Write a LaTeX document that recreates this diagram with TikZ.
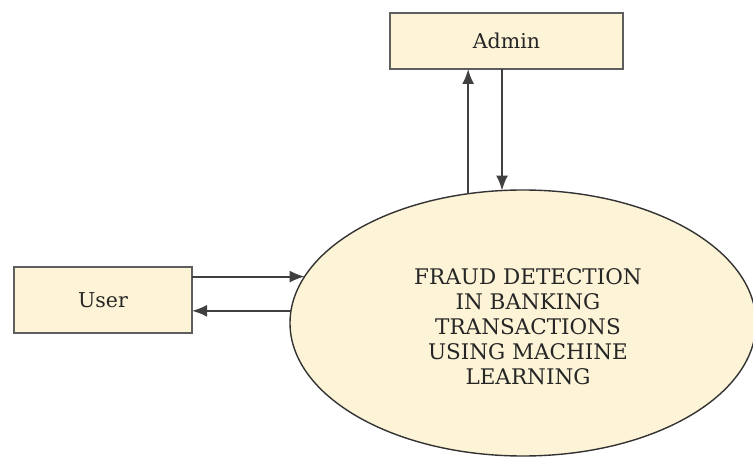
\documentclass[tikz,border=0pt]{standalone}
\usepackage{fontspec}
\setmainfont{DejaVu Serif}
\usetikzlibrary{shapes.geometric,arrows.meta,calc}
\definecolor{cream}{HTML}{FDF3D6}
\definecolor{edge}{HTML}{5E5E5E}
\definecolor{txt}{HTML}{262626}
\begin{document}
\begin{tikzpicture}[x=1pt,y=1pt,
  boxnode/.style={draw=edge,line width=2.5pt,fill=cream,rectangle,inner sep=0pt,outer sep=0pt,text=txt,font=\fontsize{20.5}{24}\selectfont},
  procnode/.style={draw=black!80,line width=1.4pt,fill=cream,ellipse,inner sep=0pt,outer sep=0pt},
  lbltext/.style={text=txt,align=center,font=\fontsize{21.5}{25}\selectfont},
  arr/.style={draw=black!75,line width=2pt,-{Latex[length=15pt,width=12pt]}}]
\useasboundingbox (0,0) rectangle (753,456);
\fill[white] (0,0) rectangle (753,456);
\node[boxnode,minimum width=233pt,minimum height=56pt] (adm) at (506.5,415) {Admin};
\node[boxnode,minimum width=178pt,minimum height=66pt] (usr) at (103,156) {User};
\node[procnode,minimum width=466pt,minimum height=266pt] (ell) at (523,133) {};
\node[lbltext] (lbl) at (528,129) {FRAUD DETECTION\\IN BANKING\\TRANSACTIONS\\USING MACHINE\\LEARNING};
\draw[arr] (ell.113.5) -- (adm.south -| ell.113.5);
\draw[arr] (adm.south -| ell.99.4) -- (ell.99.4);
\draw[arr] (usr.east |- ell.168.4) -- (ell.168.4);
\draw[arr] (ell.177.3) -- (usr.east |- ell.177.3);
\end{tikzpicture}
\end{document}
